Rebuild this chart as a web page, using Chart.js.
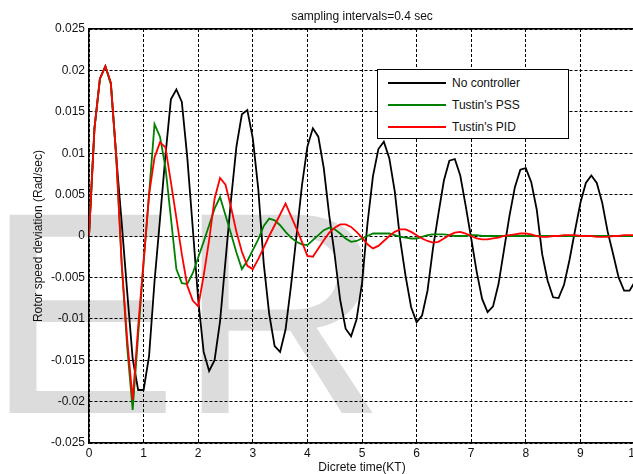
<!DOCTYPE html>
<html>
<head>
<meta charset="utf-8">
<script src="https://cdn.jsdelivr.net/npm/chart.js@4.4.0/dist/chart.umd.min.js"></script>
<style>
html, body { margin: 0; padding: 0; overflow: hidden; background: #fff; }
#wrap { position: relative; width: 633px; height: 474px; overflow: hidden; }
#chart { position: absolute; left: 0; top: 0; }
#legend { position: absolute; left: 377px; top: 69px; width: 192px; height: 70px; box-sizing: border-box;
  border: 1px solid #000; background: #fff; padding-top: 2px;
  font: 12px "Liberation Sans", Arial, sans-serif; color: #111; }
.item { display: flex; align-items: center; height: 22px; }
.swatch { width: 58px; height: 0; border-top: 2px solid; margin-left: 10px; margin-right: 6px; }
</style>
</head>
<body>
<div id="wrap">
  <canvas id="chart" width="645" height="474"></canvas>
  <div id="legend"></div>
</div>
<script>
// sample times (s)
const time = [
  0, 0.1, 0.2, 0.3, 0.4, 0.5, 0.6, 0.7, 0.8, 0.9,
  1, 1.1, 1.2, 1.3, 1.4, 1.5, 1.6, 1.7, 1.8, 1.9,
  2, 2.1, 2.2, 2.3, 2.4, 2.5, 2.6, 2.7, 2.8, 2.9,
  3, 3.1, 3.2, 3.3, 3.4, 3.5, 3.6, 3.7, 3.8, 3.9,
  4, 4.1, 4.2, 4.3, 4.4, 4.5, 4.6, 4.7, 4.8, 4.9,
  5, 5.1, 5.2, 5.3, 5.4, 5.5, 5.6, 5.7, 5.8, 5.9,
  6, 6.1, 6.2, 6.3, 6.4, 6.5, 6.6, 6.7, 6.8, 6.9,
  7, 7.1, 7.2, 7.3, 7.4, 7.5, 7.6, 7.7, 7.8, 7.9,
  8, 8.1, 8.2, 8.3, 8.4, 8.5, 8.6, 8.7, 8.8, 8.9,
  9, 9.1, 9.2, 9.3, 9.4, 9.5, 9.6, 9.7, 9.8, 9.9,
  10
];

const noController = [
  0, 0.013, 0.019, 0.0205, 0.0185, 0.0095, 0.0015, -0.0068, -0.0148, -0.0186,
  -0.0186, -0.0145, -0.0055, 0.002, 0.0097, 0.0165, 0.0177, 0.0162, 0.0095, 0.001,
  -0.0077, -0.014, -0.0163, -0.015, -0.0103, -0.003, 0.0043, 0.0108, 0.0147, 0.0152,
  0.0118, 0.0057, -0.0033, -0.0094, -0.0133, -0.014, -0.0113, -0.006, 0, 0.0061,
  0.0108, 0.013, 0.012, 0.0082, 0.0025, -0.0023, -0.0077, -0.0112, -0.0121, -0.0101,
  -0.0057, 0.0015, 0.0072, 0.0105, 0.0114, 0.0094, 0.0054, -0.0005, -0.0049, -0.0086,
  -0.0104, -0.0096, -0.0066, -0.0015, 0.0027, 0.0067, 0.0091, 0.0093, 0.0073, 0.0036,
  -0.0003, -0.0043, -0.0076, -0.0092, -0.0085, -0.0058, -0.0017, 0.0024, 0.0059, 0.008,
  0.0082, 0.0065, 0.0032, -0.0022, -0.0054, -0.0074, -0.0075, -0.0059, -0.0029, 0.0006,
  0.004, 0.0064, 0.0073, 0.0064, 0.004, 0.0005, -0.0022, -0.005, -0.0066, -0.0066,
  -0.0055
];

const tustinPSS = [
  0, 0.013, 0.019, 0.0205, 0.0183, 0.0095, -0.0035, -0.0135, -0.021, -0.012,
  -0.0033, 0.005, 0.0135, 0.012, 0.0083, 0.0022, -0.004, -0.0057, -0.0058, -0.0045,
  -0.0026, -0.0007, 0.0013, 0.0033, 0.0047, 0.0025, 0.0003, -0.002, -0.004, -0.003,
  -0.0017, -0.0004, 0.0012, 0.0021, 0.0019, 0.0013, 0.0005, -0.0002, -0.0007, -0.001,
  -0.0011, -0.0005, 0.0001, 0.0007, 0.001, 0.0008, 0.0003, -0.0003, -0.0007, -0.0006,
  -0.0003, 0, 0.0003, 0.0003, 0.0003, 0.0003, 0.0001, -0.0001, -0.0002, -0.0003,
  -0.0003, -0.0001, 0.0001, 0.0002, 0.0002, 0.0002, 0.0001, 0, 0, 0,
  0.0001, 0.0001, 0, 0, 0, 0, 0, 0, 0, 0,
  0, 0, 0, 0, 0, 0, 0, 0, 0, 0,
  0, 0, 0, 0, 0, 0, 0, 0, 0, 0,
  0
];

const tustinPID = [
  0, 0.013, 0.019, 0.0205, 0.0185, 0.0095, -0.0035, -0.0125, -0.0198, -0.011,
  -0.003, 0.005, 0.0095, 0.0113, 0.0107, 0.0065, 0.0022, -0.0022, -0.006, -0.0078,
  -0.0085, -0.0048, -0.0005, 0.0045, 0.007, 0.0062, 0.0035, 0.0005, -0.0019, -0.0036,
  -0.004, -0.0028, -0.0014, 0, 0.0013, 0.0026, 0.0039, 0.0024, 0.0009, -0.0007,
  -0.0024, -0.0025, -0.0015, -0.0005, 0.0004, 0.001, 0.0014, 0.0014, 0.0011, 0.0005,
  -0.0002, -0.001, -0.0015, -0.0012, -0.0006, 0, 0.0005, 0.0008, 0.0008, 0.0005,
  0.0001, -0.0003, -0.0006, -0.0008, -0.0007, -0.0003, 0.0001, 0.0004, 0.0005, 0.0003,
  0, -0.0003, -0.0004, -0.0004, -0.0003, -0.0002, 0, 0.0001, 0.0002, 0.0003,
  0.0003, 0.0002, 0, -0.0001, -0.0001, 0, 0, 0.0001, 0.0001, 0.0001,
  0, 0, 0, -0.0001, -0.0001, -0.0001, 0, 0, 0.0001, 0.0001,
  0.0001
];

const seriesLabels = ['No controller', "Tustin's PSS", "Tustin's PID"];
const seriesColors = ['#000000', '#008000', '#ff0000'];

const font = { family: '"Liberation Sans", Arial, sans-serif', size: 12 };
const textColor = '#111';

function toPoints(values) {
  return time.map((t, i) => ({ x: t, y: values[i] }));
}

// grey "ER" watermark behind everything
const watermark = {
  id: 'watermark',
  beforeDraw(chart) {
    const ctx = chart.ctx;
    ctx.save();
    ctx.fillStyle = '#dcdcdc';
    ctx.font = '288px "Liberation Sans", Arial, sans-serif';
    ctx.textBaseline = 'alphabetic';
    ctx.fillText('ER', -14, 413);
    ctx.restore();
  }
};

const chart = new Chart(document.getElementById('chart'), {
  type: 'line',
  data: {
    datasets: [
      { label: seriesLabels[0], data: toPoints(noController), borderColor: seriesColors[0], order: 2 },
      { label: seriesLabels[1], data: toPoints(tustinPSS), borderColor: seriesColors[1], order: 1 },
      { label: seriesLabels[2], data: toPoints(tustinPID), borderColor: seriesColors[2], order: 0 }
    ]
  },
  options: {
    responsive: false,
    animation: false,
    layout: { padding: { left: 0, right: 10, top: 0, bottom: 0 } },
    elements: {
      point: { radius: 0 },
      line: { borderWidth: 1.8, tension: 0, fill: false }
    },
    plugins: {
      legend: { display: false },
      tooltip: { enabled: false }
    },
    scales: {
      x: {
        type: 'linear',
        min: 0,
        max: 10,
        ticks: { stepSize: 1, padding: 3, color: textColor, font: font, maxRotation: 0 },
        grid: { color: '#000', lineWidth: 1, drawTicks: false },
        border: { display: true, color: '#000', width: 1.5, dash: [3, 2] },
        title: {
          display: true, text: 'Dicrete time(KT)', color: textColor,
          font: { ...font, lineHeight: 1 }, padding: { top: 0, bottom: 0 }
        },
        afterFit: s => { s.height = 31; }
      },
      top: {
        type: 'linear',
        position: 'top',
        min: 0,
        max: 10,
        ticks: { display: false },
        grid: { display: false },
        border: { display: true, color: '#000', width: 1.5 },
        title: {
          display: true, text: 'sampling intervals=0.4 sec', color: textColor,
          font: { ...font, lineHeight: 1 }, padding: { top: 11, bottom: 0 }
        },
        afterFit: s => { s.height = 29; }
      },
      y: {
        min: -0.025,
        max: 0.025,
        ticks: {
          stepSize: 0.005, padding: 4, color: textColor, font: font,
          callback: v => String(Math.round(v * 1000) / 1000)
        },
        grid: { color: '#000', lineWidth: 1, drawTicks: false },
        border: { display: true, color: '#000', width: 1.5, dash: [3, 2] },
        title: {
          display: true, text: 'Rotor speed deviation (Rad/sec)', color: textColor,
          font: { ...font, lineHeight: 1 }, padding: { top: 33, bottom: 0 }
        },
        afterFit: s => { s.width = 89; }
      }
    }
  },
  plugins: [watermark]
});

// legend box drawn as html, items taken from the chart datasets
const legendEl = document.getElementById('legend');
chart.data.datasets.forEach(ds => {
  const item = document.createElement('div');
  item.className = 'item';
  const sw = document.createElement('span');
  sw.className = 'swatch';
  sw.style.borderTopColor = ds.borderColor;
  const txt = document.createElement('span');
  txt.textContent = ds.label;
  item.appendChild(sw);
  item.appendChild(txt);
  legendEl.appendChild(item);
});
</script>
</body>
</html>
